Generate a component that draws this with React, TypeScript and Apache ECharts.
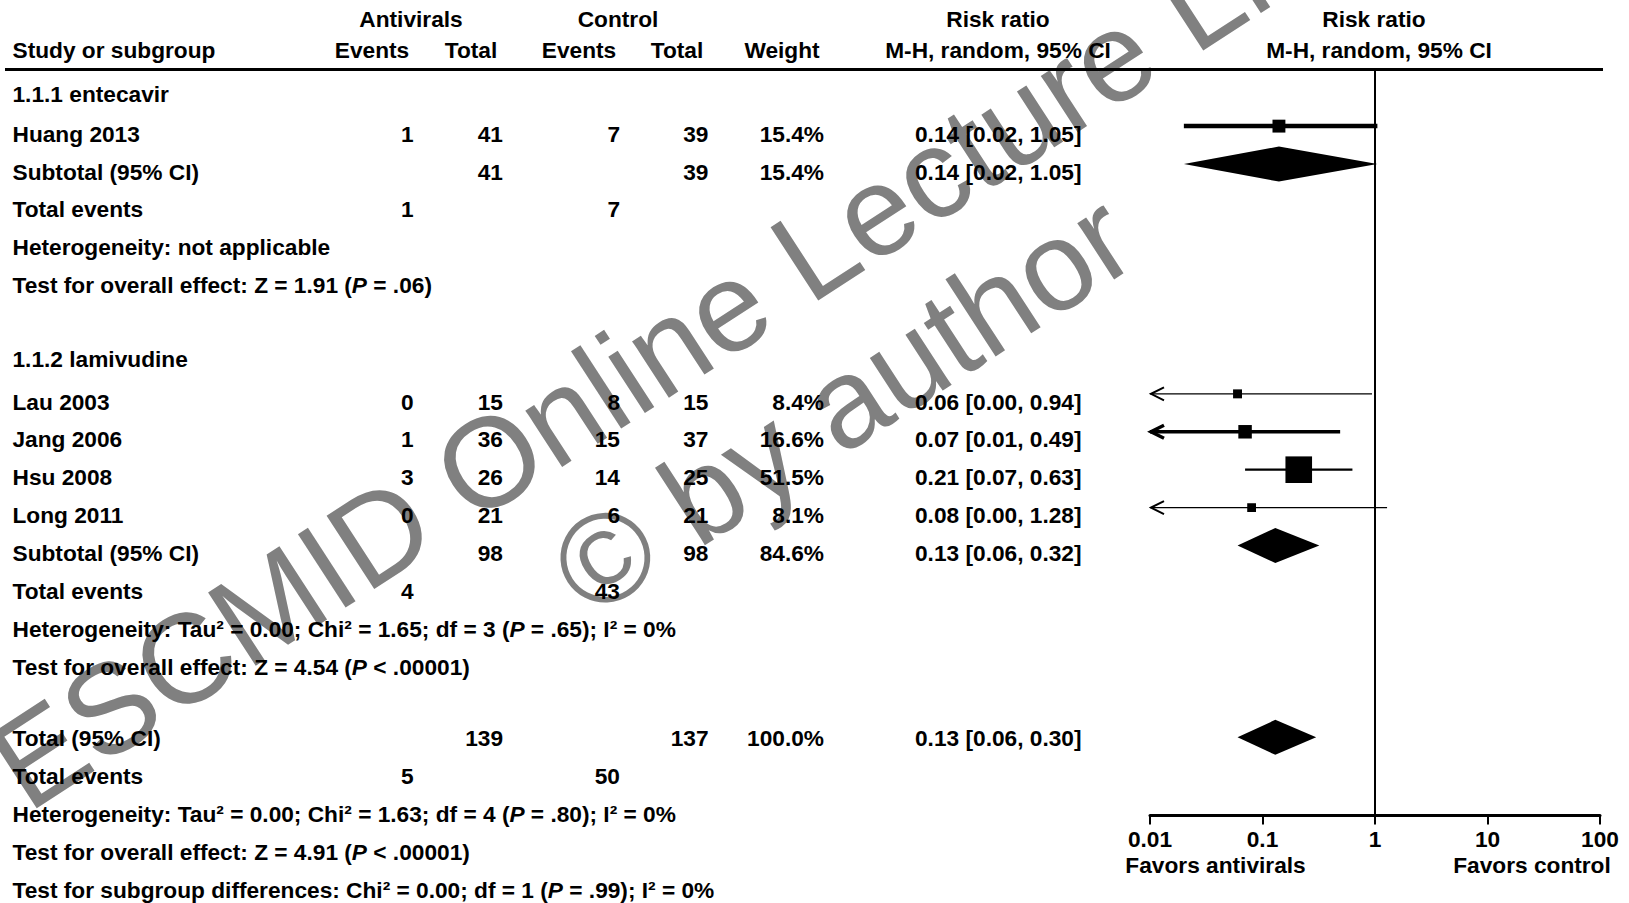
import React, { useEffect, useRef } from 'react';
import * as echarts from 'echarts';

// ---------------- data ----------------
const studyNames = ['Huang 2013', 'Lau 2003', 'Jang 2006', 'Hsu 2008', 'Long 2011'];
const studyGroup = [0, 1, 1, 1, 1];
const antiviralEvents = [1, 0, 1, 3, 0];
const antiviralTotal = [41, 15, 36, 26, 21];
const controlEvents = [7, 8, 15, 14, 6];
const controlTotal = [39, 15, 37, 25, 21];
const studyWeight = [15.4, 8.4, 16.6, 51.5, 8.1];
const studyRR = [0.14, 0.06, 0.07, 0.21, 0.08];
const studyLow = [0.02, 0.0, 0.01, 0.07, 0.0];
const studyHigh = [1.05, 0.94, 0.49, 0.63, 1.28];

const groupTitles = ['1.1.1 entecavir', '1.1.2 lamivudine'];
const summaryNames = ['Subtotal (95% CI)', 'Subtotal (95% CI)', 'Total (95% CI)'];
const summaryAntiviralTotal = [41, 98, 139];
const summaryControlTotal = [39, 98, 137];
const summaryWeight = [15.4, 84.6, 100.0];
const summaryRR = [0.14, 0.13, 0.13];
const summaryLow = [0.02, 0.06, 0.06];
const summaryHigh = [1.05, 0.32, 0.3];
const totalEventsAntiviral = [1, 4, 5];
const totalEventsControl = [7, 43, 50];
const heterogeneityText = [
  'Heterogeneity: not applicable',
  'Heterogeneity: Tau² = 0.00; Chi² = 1.65; df = 3 ({i|P} = .65); I² = 0%',
  'Heterogeneity: Tau² = 0.00; Chi² = 1.63; df = 4 ({i|P} = .80); I² = 0%',
];
const overallEffectText = [
  'Test for overall effect: Z = 1.91 ({i|P} = .06)',
  'Test for overall effect: Z = 4.54 ({i|P} < .00001)',
  'Test for overall effect: Z = 4.91 ({i|P} < .00001)',
];
const subgroupText = 'Test for subgroup differences: Chi² = 0.00; df = 1 ({i|P} = .99); I² = 0%';
const tickValues = [0.01, 0.1, 1, 10, 100];
const nullEffect = 1;
const favorsLabels = ['Favors antivirals', 'Favors control'];
const watermarkLines = ['ESCMID Online Lecture Library', '© by author'];

// ---------------- layout / style ----------------
const W = 1629;
const H = 903;
const FONT = '"Liberation Sans", Arial, Helvetica, sans-serif';
const FS = 22.7;
const ROW0 = 93.5;
const ROWH = 37.92;
const GRID_LEFT = 1150;
const GRID_RIGHT_X = 1600;
const GRID_TOP = 70;
const GRID_BOTTOM_Y = 815.5;
const XMIN = 0.01;
const XMAX = 100;
const yMin = (GRID_TOP - ROW0) / ROWH;
const yMax = (GRID_BOTTOM_Y - ROW0) / ROWH;
const ciLineWidths = [4.5, 1.3, 3.5, 2.2, 1.3];
// small vertical nudges per block (group 1, group 2, overall)
const TEXT_NUDGE = [2.2, 4.7, 0];
const MARK_NUDGE = [-5.3, -3, -0.8];
const DIAMOND_HALF = 17.5;

const COL = {
  label: 12.5,
  aEv: 413.5,
  aTot: 503,
  cEv: 620,
  cTot: 708.5,
  weight: 824,
  rr: 1081.5,
};

const rowY = (i: number) => ROW0 + ROWH * i;
const fmtRR = (r: number, l: number, h: number) => `${r.toFixed(2)} [${l.toFixed(2)}, ${h.toFixed(2)}]`;

type Row = { label?: string; aEv?: string; aTot?: string; cEv?: string; cTot?: string; weight?: string; rr?: string; nudge: number };

function buildRows() {
  const rows: Row[] = [];
  const studyRows: number[] = [];
  const summaryRows: number[] = [];
  const addSummaryBlock = (s: number) => {
    const nudge = TEXT_NUDGE[s];
    summaryRows.push(rows.length);
    rows.push({
      label: summaryNames[s],
      aTot: String(summaryAntiviralTotal[s]),
      cTot: String(summaryControlTotal[s]),
      weight: summaryWeight[s].toFixed(1) + '%',
      rr: fmtRR(summaryRR[s], summaryLow[s], summaryHigh[s]),
      nudge,
    });
    rows.push({ label: 'Total events', aEv: String(totalEventsAntiviral[s]), cEv: String(totalEventsControl[s]), nudge });
    rows.push({ label: heterogeneityText[s], nudge });
    rows.push({ label: overallEffectText[s], nudge });
  };
  groupTitles.forEach((t, g) => {
    rows.push({ label: t, nudge: 0 });
    studyNames.forEach((n, k) => {
      if (studyGroup[k] !== g) return;
      studyRows[k] = rows.length;
      rows.push({
        label: n,
        aEv: String(antiviralEvents[k]),
        aTot: String(antiviralTotal[k]),
        cEv: String(controlEvents[k]),
        cTot: String(controlTotal[k]),
        weight: studyWeight[k].toFixed(1) + '%',
        rr: fmtRR(studyRR[k], studyLow[k], studyHigh[k]),
        nudge: TEXT_NUDGE[g],
      });
    });
    addSummaryBlock(g);
    rows.push({ nudge: 0 });
  });
  addSummaryBlock(2);
  rows.push({ label: subgroupText, nudge: 0 });
  return { rows, studyRows, summaryRows };
}

const richItalic = { i: { fontStyle: 'italic', fontWeight: 'bold', fontSize: FS, fontFamily: FONT, fill: '#000' } };

function txt(text: string, x: number, y: number, align: string, extra: any = {}) {
  return {
    type: 'text',
    x,
    y,
    z: 10,
    style: {
      text,
      fill: '#000',
      fontSize: FS,
      fontWeight: 'bold',
      fontFamily: FONT,
      align,
      textAlign: align,
      verticalAlign: 'middle',
      textVerticalAlign: 'middle',
      rich: richItalic,
      ...extra,
    },
  };
}

export default function App() {
  const ref = useRef<HTMLDivElement>(null);
  useEffect(() => {
    document.body.style.margin = '0';
    const chart = echarts.init(ref.current!, null, { renderer: 'svg' });
    const { rows, studyRows, summaryRows } = buildRows();

    const graphics: any[] = [];
    // watermark
    const rot = (33 * Math.PI) / 180;
    const wmPos = [
      [4, 777],
      [566, 583],
    ];
    watermarkLines.forEach((t, i) => {
      graphics.push({
        type: 'text',
        x: wmPos[i][0],
        y: wmPos[i][1],
        rotation: rot,
        z: 0,
        style: {
          text: t,
          fill: '#808080',
          fontSize: 127,
          fontFamily: FONT,
          align: 'left',
          textAlign: 'left',
          verticalAlign: 'middle',
          textVerticalAlign: 'middle',
        },
      });
    });
    // header
    graphics.push(txt('Antivirals', 411, 18.5, 'center'));
    graphics.push(txt('Control', 618, 18.5, 'center'));
    graphics.push(txt('Risk ratio', 998, 18.5, 'center'));
    graphics.push(txt('Risk ratio', 1374, 18.5, 'center'));
    graphics.push(txt('Study or subgroup', COL.label, 49.5, 'left'));
    graphics.push(txt('Events', 372, 49.5, 'center'));
    graphics.push(txt('Total', 471, 49.5, 'center'));
    graphics.push(txt('Events', 579, 49.5, 'center'));
    graphics.push(txt('Total', 677, 49.5, 'center'));
    graphics.push(txt('Weight', 782, 49.5, 'center'));
    graphics.push(txt('M-H, random, 95% CI', 998, 49.5, 'center'));
    graphics.push(txt('M-H, random, 95% CI', 1379, 49.5, 'center'));
    graphics.push({
      type: 'line',
      z: 10,
      shape: { x1: 5, y1: 69.6, x2: 1603, y2: 69.6 },
      style: { stroke: '#000', lineWidth: 3 },
    });
    // table body
    rows.forEach((r, i) => {
      const y = rowY(i) + r.nudge;
      if (r.label) graphics.push(txt(r.label, COL.label, y, 'left'));
      if (r.aEv) graphics.push(txt(r.aEv, COL.aEv, y, 'right'));
      if (r.aTot) graphics.push(txt(r.aTot, COL.aTot, y, 'right'));
      if (r.cEv) graphics.push(txt(r.cEv, COL.cEv, y, 'right'));
      if (r.cTot) graphics.push(txt(r.cTot, COL.cTot, y, 'right'));
      if (r.weight) graphics.push(txt(r.weight, COL.weight, y, 'right'));
      if (r.rr) graphics.push(txt(r.rr, COL.rr, y, 'right'));
    });
    graphics.push(txt(favorsLabels[0], 1215.5, 865.4, 'center'));
    graphics.push(txt(favorsLabels[1], 1532, 865.4, 'center'));

    const studyData = studyNames.map((_, k) => [studyRR[k], studyRows[k], studyLow[k], studyHigh[k], studyWeight[k], k, studyGroup[k]]);
    const summaryData = summaryNames.map((_, s) => [summaryRR[s], summaryRows[s], summaryLow[s], summaryHigh[s], s]);

    const option: any = {
      animation: false,
      backgroundColor: '#fff',
      grid: { left: GRID_LEFT, right: W - GRID_RIGHT_X, top: GRID_TOP, bottom: H - GRID_BOTTOM_Y, containLabel: false },
      xAxis: {
        type: 'log',
        logBase: 10,
        min: XMIN,
        max: XMAX,
        position: 'bottom',
        axisLine: { show: true, onZero: false, lineStyle: { color: '#000', width: 3 } },
        axisTick: { show: true, length: 9, lineStyle: { color: '#000', width: 2 } },
        axisLabel: {
          color: '#000',
          fontSize: FS,
          fontWeight: 'bold',
          fontFamily: FONT,
          margin: 12,
          showMinLabel: true,
          showMaxLabel: true,
          formatter: (v: number) => {
            const t = tickValues.find((tv) => Math.abs(Math.log10(tv) - Math.log10(v)) < 1e-6);
            return t !== undefined ? String(t) : '';
          },
        },
        splitLine: { show: false },
      },
      yAxis: { type: 'value', inverse: true, min: yMin, max: yMax, show: false },
      graphic: { elements: graphics },
      series: [
        {
          type: 'line',
          data: [
            [nullEffect, yMin],
            [nullEffect, yMax],
          ],
          symbol: 'none',
          lineStyle: { color: '#000', width: 2 },
          z: 5,
        },
        {
          type: 'custom',
          z: 6,
          data: studyData,
          renderItem: (params: any, api: any) => {
            const est = api.value(0);
            const row = api.value(1);
            const lo = api.value(2);
            const hi = api.value(3);
            const w = api.value(4);
            const k = api.value(5);
            const g = api.value(6);
            const pE = api.coord([est, row]);
            const pL = api.coord([Math.max(lo, XMIN), row]);
            const pH = api.coord([Math.min(hi, XMAX), row]);
            const y = pE[1] + MARK_NUDGE[g];
            const lw = ciLineWidths[k];
            const s = 2.5 * Math.pow(w, 0.6);
            const children: any[] = [
              { type: 'line', shape: { x1: pL[0], y1: y, x2: pH[0], y2: y }, style: { stroke: '#000', lineWidth: lw } },
              { type: 'rect', shape: { x: pE[0] - s / 2, y: y - s / 2, width: s, height: s }, style: { fill: '#000' } },
            ];
            if (lo <= XMIN) {
              children.push({
                type: 'polyline',
                shape: { points: [[pL[0] + 14, y - 6.5], [pL[0] + 1, y], [pL[0] + 14, y + 6.5]] },
                style: { stroke: '#000', fill: null, lineWidth: Math.max(lw, 2) },
              });
            }
            return { type: 'group', children };
          },
        },
        {
          type: 'custom',
          z: 6,
          data: summaryData,
          renderItem: (params: any, api: any) => {
            const est = api.value(0);
            const row = api.value(1);
            const s = api.value(4);
            const pE = api.coord([est, row]);
            const pL = api.coord([api.value(2), row]);
            const pH = api.coord([api.value(3), row]);
            const y = pE[1] + MARK_NUDGE[s];
            return {
              type: 'polygon',
              shape: {
                points: [
                  [pL[0], y],
                  [pE[0], y - DIAMOND_HALF],
                  [pH[0], y],
                  [pE[0], y + DIAMOND_HALF],
                ],
              },
              style: { fill: '#000' },
            };
          },
        },
      ],
    };
    chart.setOption(option);
    return () => chart.dispose();
  }, []);
  return <div ref={ref} style={{ position: 'absolute', left: 0, top: 0, width: W, height: H, background: '#fff' }} />;
}
